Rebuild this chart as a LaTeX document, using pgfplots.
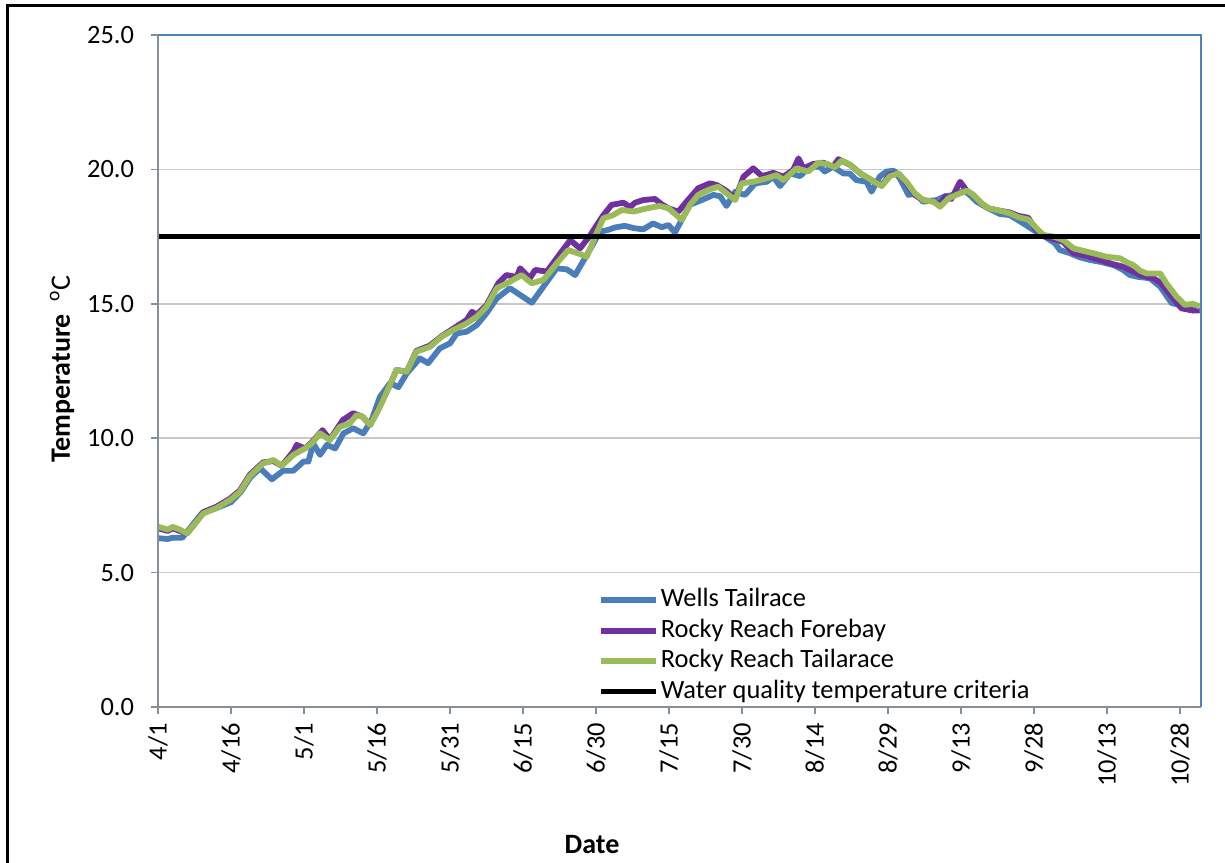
\documentclass[border=0pt]{standalone}
\usepackage{pgfplots}
\pgfplotsset{compat=1.18}
\usepackage{fontspec}
\setmainfont{Carlito}
\definecolor{wells}{RGB}{74,126,187}
\definecolor{forebay}{RGB}{112,48,160}
\definecolor{tailc}{RGB}{155,187,89}
\definecolor{axgray}{RGB}{134,142,150}
\definecolor{borderc}{RGB}{79,129,189}
\definecolor{gridc}{RGB}{200,200,200}
\begin{document}
\begin{tikzpicture}
\useasboundingbox (0,0) rectangle (612.5pt,431pt);
\draw[line width=1.1pt] (3.75pt,-2pt) -- (3.75pt,428.25pt) -- (615pt,428.25pt);
\begin{axis}[
  at={(79pt,77.5pt)}, anchor=south west,
  scale only axis, width=521.5pt, height=336pt,
  xmin=0, xmax=214.3, ymin=0, ymax=25,
  clip=false,
  xtick={0,15,...,210},
  xticklabels={4/1,4/16,5/1,5/16,5/31,6/15,6/30,7/15,7/30,8/14,8/29,9/13,9/28,10/13,10/28},
  ytick={0,5,...,25},
  /pgf/number format/assume math mode=true,
  yticklabel style={/pgf/number format/fixed,/pgf/number format/fixed zerofill,/pgf/number format/precision=1,
     font=\fontsize{13.2}{15}\selectfont, xshift=-5pt},
  xticklabel style={rotate=90, anchor=east, font=\fontsize{13.2}{15}\selectfont, yshift=0pt, xshift=-1pt},
  axis line style={draw=none},
  tick align=outside, xtick pos=left, ytick pos=left,
  major tick length=3.5pt,
  tick style={axgray, line width=0.8pt},
  ymajorgrids, grid style={gridc, line width=0.75pt},
  legend style={at={(rel axis cs:0.4215,0.182)}, anchor=north west, draw=none, fill=none,
     font=\fontsize{13.2}{15}\selectfont, inner sep=0pt, row sep=0pt,
     nodes={inner sep=1pt, text height=9.9pt, text depth=3.3pt, anchor=west}},
  legend cell align=left,
  legend image code/.code={\draw[#1] (0pt,0pt) -- (27.5pt,0pt);},
]
\addplot[wells, line width=2.9pt, line join=round] coordinates {
(0,6.28)(2,6.25)(3,6.3)(5,6.3)(7,6.75)(9,7.2)(12,7.4)(15,7.62)(17,8.0)(19,8.55)(21,8.88)
(23.4,8.47)(25.7,8.79)(27.8,8.79)(29.9,9.13)(30.9,9.13)(31.9,9.8)(33.3,9.38)(34.7,9.75)
(36.4,9.62)(38.1,10.18)(40.1,10.37)(42.2,10.18)(43.9,10.68)(45.6,11.54)(47.7,12.05)(49.4,11.9)
(51.1,12.41)(53.8,12.97)(55.5,12.79)(57.9,13.34)(60,13.53)(61.4,13.9)(63.4,13.96)(65.5,14.21)
(67.5,14.65)(69.6,15.2)(72.3,15.58)(74.4,15.33)(76.8,15.04)(79.2,15.64)(81.9,16.32)(84,16.28)
(85.7,16.07)(87.7,16.69)(89,17.1)(90.8,17.68)(92.5,17.75)(93.9,17.84)(95.9,17.9)(97.9,17.81)
(99.7,17.77)(101.7,17.99)(103.5,17.85)(104.9,17.93)(106.2,17.65)(107.6,18.12)(109.3,18.68)
(111.7,18.86)(114.1,19.05)(115.5,19.0)(116.8,18.64)(118.6,19.17)(120.6,19.05)(122.7,19.48)
(125.1,19.54)(126.4,19.73)(127.8,19.38)(129.9,19.85)(131.9,19.75)(134,20.1)(136,20.1)(137,19.92)
(138.7,20.1)(140.8,19.85)(142.1,19.85)(143.5,19.6)(145.6,19.54)(146.6,19.17)(148.3,19.73)
(149.7,19.92)(151.2,19.95)(152.4,19.67)(154.2,19.05)(155.5,19.1)(157.2,18.8)(160,18.86)
(161.7,19.0)(163.5,19.05)(165.5,19.2)(166.5,19.1)(168.2,18.8)(170.6,18.55)(173,18.34)(175,18.3)
(177.8,17.99)(179.8,17.75)(182.2,17.5)(184.3,17.25)(185.3,17.0)(187.4,16.88)(189.4,16.73)
(191.5,16.63)(193.9,16.55)(196.3,16.44)(198.3,16.26)(199.7,16.07)(201.4,16.0)(203.8,15.95)
(205.9,15.64)(208.3,15.02)(210,14.96)(212,14.77)(214,14.75)
};
\addlegendentry{Wells Tailrace}
\addplot[forebay, line width=2.9pt, line join=round] coordinates {
(0,6.65)(2,6.55)(3,6.65)(5.9,6.45)(7.5,6.8)(9.3,7.25)(12,7.45)(14.8,7.75)(16.8,8.05)(18.9,8.65)
(21.6,9.1)(23.7,9.15)(25.4,8.97)(27.8,9.5)(28.5,9.75)(30.2,9.62)(31.6,9.85)(33.8,10.3)(35.3,9.95)
(38,10.68)(40.1,10.93)(42,10.8)(43.6,10.49)(45.3,11.1)(47.7,12.0)(49,12.54)(51.1,12.47)(53.1,13.25)
(55.9,13.45)(58.3,13.8)(60.7,14.08)(63.4,14.4)(64.5,14.7)(65.5,14.6)(67.5,14.95)(69.9,15.76)
(71.6,16.07)(73.7,16.0)(74.4,16.32)(76.4,15.95)(77.5,16.26)(79.9,16.2)(81.9,16.69)(84.7,17.37)
(86.7,17.06)(88.8,17.55)(91.5,18.3)(93.2,18.68)(95.6,18.76)(97,18.6)(98,18.76)(99.7,18.86)
(102.1,18.9)(103.5,18.7)(104.9,18.55)(106.9,18.43)(108.6,18.8)(111,19.3)(113.4,19.48)(114.8,19.42)
(116.8,19.2)(118.6,18.9)(120.3,19.73)(122.3,20.04)(124.1,19.75)(126.4,19.87)(128.5,19.73)
(130.5,19.98)(131.6,20.41)(132.6,20.04)(134.6,20.2)(136.7,20.25)(138.7,20.1)(139.8,20.38)
(142.2,20.17)(144.3,19.85)(146.6,19.6)(148.7,19.4)(150.4,19.8)(152.1,19.85)(153.8,19.5)
(155.5,19.05)(157.2,18.86)(159.3,18.8)(160.7,18.7)(161.8,19.0)(163,18.9)(164.8,19.54)(166.2,19.2)
(167.5,19.05)(169.2,18.74)(170.6,18.55)(173,18.46)(175,18.4)(176.8,18.27)(178.8,18.2)(180.2,17.8)
(182.2,17.5)(184.3,17.4)(186,17.3)(188.1,16.88)(190.8,16.78)(193.5,16.63)(196.3,16.47)(198.3,16.38)
(201.8,16.07)(204.5,15.95)(205.9,15.8)(208.3,15.26)(210.3,14.83)(212.7,14.75)(214,14.77)
};
\addlegendentry{Rocky Reach Forebay}
\addplot[tailc, line width=2.9pt, line join=round] coordinates {
(0,6.71)(2,6.6)(3,6.7)(4.5,6.6)(5.9,6.46)(7.5,6.8)(9.3,7.2)(12,7.4)(14.8,7.7)(16.8,8.0)(18.9,8.6)
(21.6,9.06)(23.7,9.19)(25.4,8.97)(27.8,9.38)(30.2,9.62)(31.6,9.81)(33.3,10.18)(35.3,9.93)(37.4,10.43)
(39.4,10.55)(40.8,10.86)(42,10.8)(43.6,10.49)(45.3,11.05)(47.7,12.0)(49,12.54)(51.1,12.47)(53.1,13.22)
(55.9,13.4)(58.3,13.78)(60.7,14.03)(63.4,14.27)(65.5,14.52)(67.5,14.89)(69.6,15.58)(72.3,15.82)
(74.7,16.07)(76.8,15.76)(79.2,15.89)(81.9,16.5)(84.3,17.0)(86.7,16.85)(88.1,16.75)(90.1,17.62)
(91.5,18.18)(93.5,18.3)(95.3,18.49)(97.7,18.43)(100.4,18.55)(103.1,18.64)(104.9,18.55)(106.5,18.3)
(107.6,18.12)(109.3,18.68)(111,19.05)(113.4,19.26)(115.1,19.36)(116.8,19.11)(118.6,18.86)
(119.9,19.48)(122.3,19.54)(125.1,19.67)(127.1,19.79)(128.5,19.6)(131.2,20.04)(133.6,19.92)
(135.7,20.25)(137.4,20.2)(139.1,20.08)(140.5,20.33)(142.2,20.17)(144.3,19.85)(146.6,19.6)
(148.7,19.38)(150.4,19.75)(152.1,19.85)(153.8,19.54)(155.5,19.11)(157.2,18.86)(159.3,18.8)
(160.7,18.61)(162.4,18.92)(164.4,19.08)(166.2,19.21)(167.5,19.05)(169.2,18.74)(170.6,18.55)
(173,18.46)(175,18.37)(176.8,18.22)(178.8,18.14)(180.2,17.87)(181.9,17.56)(184,17.5)(186,17.37)
(188.1,17.06)(190.1,16.97)(192.2,16.88)(194.9,16.75)(197.7,16.69)(199,16.55)(200.4,16.44)
(201.8,16.23)(203.1,16.13)(205.9,16.13)(207.2,15.76)(209.3,15.26)(211,14.96)(212.7,15.0)(214,14.9)
};
\addlegendentry{Rocky Reach Tailarace}
\addplot[black, line width=2.7pt] coordinates {(0,17.5)(214,17.5)};
\addlegendentry{Water quality temperature criteria}
\draw[borderc, line width=1pt] (rel axis cs:0,1) -- (rel axis cs:1,1) -- (rel axis cs:1,0);
\draw[axgray, line width=1pt] (rel axis cs:0,1) -- (rel axis cs:0,0) -- (rel axis cs:1,0);
\end{axis}
\node[font=\fontsize{14}{16}\selectfont\bfseries] at (296pt,8.5pt) {Date};
\node[rotate=90, font=\fontsize{14}{16}\selectfont] at (31pt,246.5pt) {\textbf{Temperature}\ \ \textsuperscript{o}C};
\end{tikzpicture}
\end{document}
